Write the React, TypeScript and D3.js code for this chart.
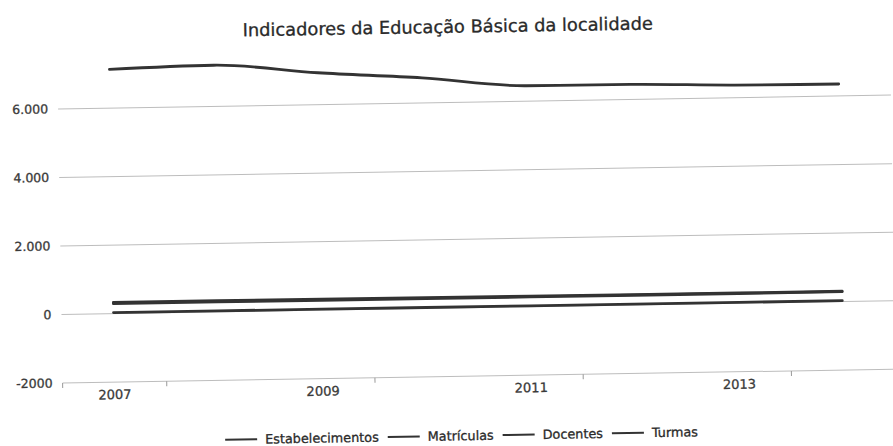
import React, { useEffect, useRef } from "react";
import * as d3 from "d3";

const years = ["2007", "2008", "2009", "2010", "2011", "2012", "2013", "2014"];
const estabelecimentos = [30, 29, 28, 27, 26, 25, 25, 24];
const matriculas = [7130, 7200, 6930, 6730, 6450, 6440, 6370, 6350];
const docentes = [330, 325, 320, 315, 310, 305, 300, 300];
const turmas = [290, 290, 288, 286, 285, 284, 285, 288];
const seriesNames = ["Estabelecimentos", "Matrículas", "Docentes", "Turmas"];
const yTicks = [-2000, 0, 2000, 4000, 6000];
const yTickLabels = ["-2000", "0", "2.000", "4.000", "6.000"];
const xLabelYears = ["2007", "2009", "2011", "2013"];
const titleText = "Indicadores da Educação Básica da localidade";

const W = 893;
const H = 446;
const FONT = "'DejaVu Sans', sans-serif";

export default function App() {
  const ref = useRef<SVGSVGElement | null>(null);

  useEffect(() => {
    const svg = d3.select(ref.current);
    svg.selectAll("*").remove();
    const root = svg.append("g").attr("transform", `rotate(-0.95 ${W / 2} ${H / 2})`);

    const left = 60, right = 893;
    const x = d3.scaleBand<string>().domain(years).range([left, right]).padding(0);
    const y = d3.scaleLinear().domain([-2000, 6000]).range([376.6, 102.5]);

    // title
    root.append("text").attr("x", 451).attr("y", 33).attr("text-anchor", "middle")
      .attr("font-family", FONT).attr("font-size", 17.8).attr("fill", "#2a2a2a")
      .attr("stroke", "#2a2a2a").attr("stroke-width", 0.3).text(titleText);

    // gridlines
    root.append("g").selectAll("line").data(yTicks).join("line")
      .attr("x1", left).attr("x2", right)
      .attr("y1", (d) => y(d)).attr("y2", (d) => y(d))
      .attr("stroke", "#bdbdbd").attr("stroke-width", 1);

    // y labels
    root.append("g").selectAll("text").data(yTicks).join("text")
      .attr("x", 50).attr("y", (d) => y(d)).attr("dy", "0.35em").attr("text-anchor", "end")
      .attr("font-family", FONT).attr("font-size", 12.5).attr("fill", "#3a3a3a")
      .attr("stroke", "#3a3a3a").attr("stroke-width", 0.3)
      .text((d, i) => yTickLabels[i]);

    // x axis ticks at category boundaries every 2
    const bw = x.bandwidth();
    const tickXs = [left, ...xLabelYears.map((yr) => (x(yr) as number) + bw)];
    root.append("g").selectAll("line").data(tickXs).join("line")
      .attr("x1", (d) => d).attr("x2", (d) => d)
      .attr("y1", y(-2000)).attr("y2", y(-2000) + 5)
      .attr("stroke", "#999").attr("stroke-width", 1);

    root.append("g").selectAll("text").data(xLabelYears).join("text")
      .attr("x", (d) => (x(d) as number) + bw / 2).attr("y", y(-2000) + 17)
      .attr("text-anchor", "middle")
      .attr("font-family", FONT).attr("font-size", 13).attr("fill", "#3a3a3a")
      .attr("stroke", "#3a3a3a").attr("stroke-width", 0.3)
      .text((d) => d);

    // lines
    const all = [estabelecimentos, matriculas, docentes, turmas];
    const line = d3.line<number>()
      .x((d, i) => (x(years[i]) as number) + bw / 2)
      .y((d) => y(d))
      .curve(d3.curveMonotoneX);
    root.append("g").selectAll("path").data(all).join("path")
      .attr("d", (d) => line(d) as string)
      .attr("fill", "none").attr("stroke", "#333").attr("stroke-width", 2.8)
      .attr("stroke-linecap", "round");

    // legend
    const lg = root.append("g");
    const items = lg.selectAll("g").data(seriesNames).join("g");
    items.append("line").attr("x1", 0).attr("x2", 32).attr("y1", 0).attr("y2", 0)
      .attr("stroke", "#333").attr("stroke-width", 2);
    items.append("text").attr("x", 40).attr("y", 0).attr("dy", "0.35em")
      .attr("font-family", FONT).attr("font-size", 12.8).attr("fill", "#2a2a2a")
      .attr("stroke", "#2a2a2a").attr("stroke-width", 0.3)
      .text((d) => d);
    const widths: number[] = [];
    items.each(function () {
      const t = d3.select(this).select("text").node() as SVGTextElement;
      widths.push(40 + t.getComputedTextLength());
    });
    const gap = 9;
    const total = widths.reduce((a, b) => a + b, 0) + gap * (widths.length - 1);
    let cx = 458 - total / 2;
    items.attr("transform", (d, i) => {
      const tx = cx;
      cx += widths[i] + gap;
      return `translate(${tx},436)`;
    });
  }, []);

  return (
    <svg ref={ref} width={W} height={H} style={{ display: "block", position: "absolute", left: 0, top: 0, background: "#fff" }} />
  );
}
